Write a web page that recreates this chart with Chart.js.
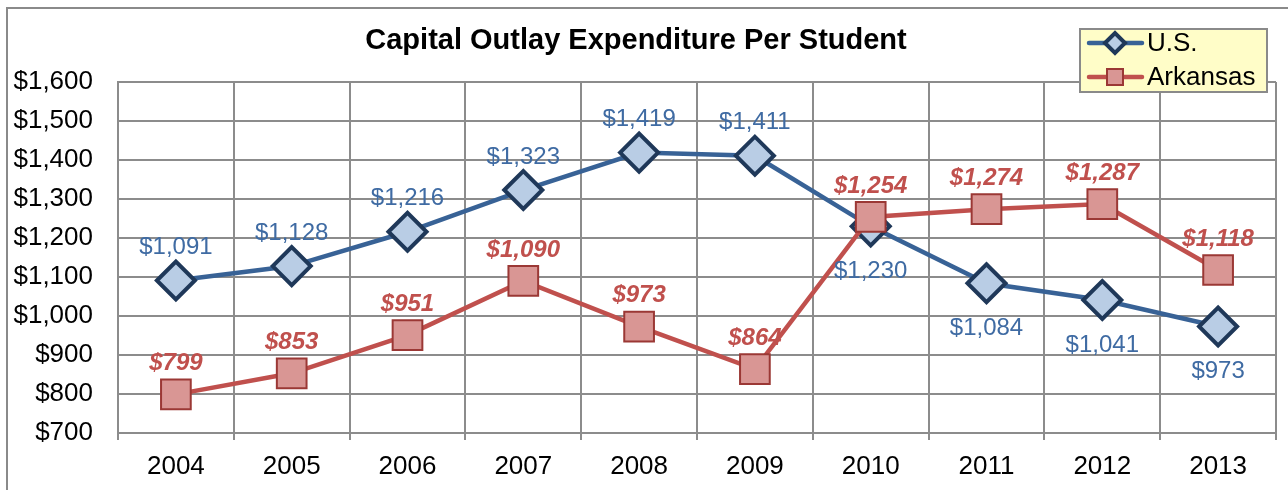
<!DOCTYPE html>
<html>
<head>
<meta charset="utf-8">
<script src="https://cdn.jsdelivr.net/npm/chart.js@4/dist/chart.umd.min.js"></script>
<style>
  html, body { margin: 0; padding: 0; background: #ffffff; }
  canvas { display: block; }
</style>
</head>
<body>
<canvas id="chart" width="1288" height="490"></canvas>
<script>
// Capital outlay expenditure per student, U.S. vs Arkansas
const years = ['2004', '2005', '2006', '2007', '2008', '2009', '2010', '2011', '2012', '2013'];
const usValues = [1091, 1128, 1216, 1323, 1419, 1411, 1230, 1084, 1041, 973];
const arkansasValues = [799, 853, 951, 1090, 973, 864, 1254, 1274, 1287, 1118];
const yTickValues = [700, 800, 900, 1000, 1100, 1200, 1300, 1400, 1500, 1600];
const titleText = 'Capital Outlay Expenditure Per Student';

const FONT = '"Liberation Sans", Arial, sans-serif';
const money = v => '$' + Number(v).toLocaleString('en-US');

// Outer frame and title
const framePlugin = {
  id: 'frame',
  beforeDraw(chart) {
    const ctx = chart.ctx;
    ctx.save();
    ctx.fillStyle = '#ffffff';
    ctx.fillRect(0, 0, chart.width, chart.height);
    ctx.strokeStyle = '#8a8a8a';
    ctx.lineWidth = 2;
    ctx.beginPath();
    ctx.moveTo(7, chart.height + 5);
    ctx.lineTo(7, 8);
    ctx.lineTo(chart.width + 5, 8);
    ctx.stroke();
    ctx.fillStyle = '#000000';
    ctx.font = 'bold 29px ' + FONT;
    ctx.textAlign = 'center';
    ctx.textBaseline = 'middle';
    ctx.fillText(titleText, 636, 41);
    ctx.restore();
  }
};

// Value labels next to each marker
const valueLabelPlugin = {
  id: 'valueLabels',
  afterDatasetsDraw(chart) {
    const ctx = chart.ctx;
    ctx.save();
    ctx.textAlign = 'center';
    ctx.textBaseline = 'middle';
    chart.data.datasets.forEach((ds, di) => {
      const meta = chart.getDatasetMeta(di);
      meta.data.forEach((pt, i) => {
        const v = ds.data[i];
        let dy;
        if (ds.label === 'U.S.') {
          ctx.font = '24px ' + FONT;
          ctx.fillStyle = '#3F6BA3';
          dy = v < arkansasValues[i] ? 45 : -33;
        } else {
          ctx.font = 'italic bold 24px ' + FONT;
          ctx.fillStyle = '#C0504D';
          dy = -31;
        }
        ctx.fillText(money(v), pt.x, pt.y + dy);
      });
    });
    ctx.restore();
  }
};

// Boxed legend with line-and-marker samples
const boxLegendPlugin = {
  id: 'boxLegend',
  afterDraw(chart) {
    const ctx = chart.ctx;
    const box = { x: 1080, y: 29, w: 187, h: 63 };
    ctx.save();
    ctx.fillStyle = '#FFFDC8';
    ctx.fillRect(box.x, box.y, box.w, box.h);
    ctx.strokeStyle = '#8a8a8a';
    ctx.lineWidth = 2;
    ctx.strokeRect(box.x, box.y, box.w, box.h);
    const rows = [43, 77];
    chart.data.datasets.forEach((ds, i) => {
      const y = rows[i];
      ctx.strokeStyle = ds.borderColor;
      ctx.lineWidth = 4.5;
      ctx.lineCap = 'round';
      ctx.beginPath();
      ctx.moveTo(1089, y);
      ctx.lineTo(1142, y);
      ctx.stroke();
      ctx.fillStyle = ds.pointBackgroundColor;
      ctx.strokeStyle = ds.pointBorderColor;
      ctx.lineWidth = ds.pointBorderWidth;
      ctx.beginPath();
      if (ds.pointStyle === 'rectRot') {
        const r = 10;
        ctx.moveTo(1115 - r, y);
        ctx.lineTo(1115, y - r);
        ctx.lineTo(1115 + r, y);
        ctx.lineTo(1115, y + r);
        ctx.closePath();
      } else {
        ctx.rect(1115 - 8, y - 8, 16, 16);
      }
      ctx.fill();
      ctx.stroke();
      ctx.fillStyle = '#000000';
      ctx.font = '26px ' + FONT;
      ctx.textAlign = 'left';
      ctx.textBaseline = 'middle';
      ctx.fillText(ds.label, 1147, y + 1);
    });
    ctx.restore();
  }
};

new Chart(document.getElementById('chart'), {
  type: 'line',
  data: {
    labels: years,
    datasets: [
      {
        label: 'U.S.',
        data: usValues,
        order: 1,
        borderColor: '#386296',
        borderWidth: 4.5,
        pointStyle: 'rectRot',
        pointRadius: 19,
        pointHoverRadius: 19,
        pointBackgroundColor: '#B9CDE5',
        pointBorderColor: '#1F3859',
        pointBorderWidth: 4,
        tension: 0
      },
      {
        label: 'Arkansas',
        data: arkansasValues,
        order: 0,
        borderColor: '#C0504D',
        borderWidth: 4.5,
        pointStyle: 'rect',
        pointRadius: 21,
        pointHoverRadius: 21,
        pointBackgroundColor: '#D99694',
        pointBorderColor: '#9B3835',
        pointBorderWidth: 2,
        tension: 0
      }
    ]
  },
  options: {
    responsive: false,
    animation: false,
    devicePixelRatio: 1,
    layout: { autoPadding: false, padding: { top: 82, right: 12, bottom: 0, left: 0 } },
    plugins: {
      legend: { display: false },
      title: { display: false },
      tooltip: { enabled: false }
    },
    scales: {
      x: {
        offset: true,
        grid: {
          offset: true,
          color: '#8c8c8c',
          lineWidth: 2,
          drawTicks: true,
          tickLength: 7
        },
        border: { color: '#8c8c8c', width: 2 },
        ticks: {
          color: '#000000',
          font: { family: FONT, size: 26 },
          padding: 11,
          maxRotation: 0
        },
        afterFit(scale) {
          scale.height = 57;
          scale.paddingLeft = 0;
          scale.paddingRight = 0;
        }
      },
      y: {
        min: 700,
        max: 1600,
        afterBuildTicks(scale) { scale.ticks = yTickValues.map(v => ({ value: v })); },
        grid: {
          color: '#8c8c8c',
          lineWidth: 2,
          drawTicks: false
        },
        border: { color: '#8c8c8c', width: 2 },
        ticks: {
          color: '#000000',
          font: { family: FONT, size: 26 },
          padding: 25,
          callback: v => money(v)
        },
        afterFit(scale) { scale.width = 118; }
      }
    }
  },
  plugins: [framePlugin, valueLabelPlugin, boxLegendPlugin]
});
</script>
</body>
</html>
